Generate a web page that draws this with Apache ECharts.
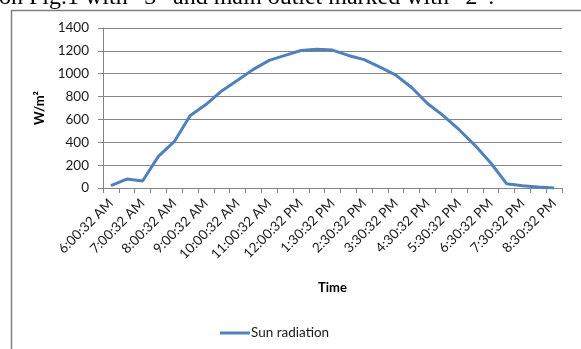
<!DOCTYPE html>
<html>
<head>
<meta charset="utf-8">
<script src="https://cdn.jsdelivr.net/npm/echarts@6/dist/echarts.min.js"></script>
<style>
  html, body { margin: 0; padding: 0; background: #fff; }
  #chart { width: 581px; height: 349px; }
</style>
</head>
<body>
<div id="chart"></div>
<script>
// Half-hourly sample times (every other one is labelled on the axis)
const times = [
  '6:00:32 AM', '6:30:32 AM', '7:00:32 AM', '7:30:32 AM', '8:00:32 AM',
  '8:30:32 AM', '9:00:32 AM', '9:30:32 AM', '10:00:32 AM', '10:30:32 AM',
  '11:00:32 AM', '11:30:32 AM', '12:00:32 PM', '1:00:32 PM', '1:30:32 PM',
  '2:00:32 PM', '2:30:32 PM', '3:00:32 PM', '3:30:32 PM', '4:00:32 PM',
  '4:30:32 PM', '5:00:32 PM', '5:30:32 PM', '6:00:32 PM', '6:30:32 PM',
  '7:00:32 PM', '7:30:32 PM', '8:00:32 PM', '8:30:32 PM'
];

// Measured solar radiation, W/m²
const sunRadiation = [
  20, 78, 61, 277, 405, 633, 730, 849, 943, 1038,
  1117, 1160, 1203, 1215, 1207, 1160, 1123, 1058, 988, 879,
  739, 633, 510, 373, 219, 38, 20, 9, 0
];

const yMin = 0, yMax = 1400, yStep = 200;
const seriesName = 'Sun radiation';
const caption = 'on Fig.1 with \u201c3\u201d and main outlet marked with \u201c2\u201d.';

const uiFont = 'Lato';
const gray = '#868686';

const chart = echarts.init(document.getElementById('chart'), null, { renderer: 'canvas' });

chart.setOption({
  animation: false,
  backgroundColor: '#fff',
  graphic: [
    {
      type: 'text',
      x: -1,
      y: -2,
      style: {
        text: caption,
        font: '24px "Liberation Serif"',
        fill: '#000',
        textVerticalAlign: 'middle'
      }
    },
    {
      type: 'rect',
      shape: { x: 11.5, y: 10.5, width: 620, height: 400 },
      style: { fill: 'none', stroke: '#7f7f7f', lineWidth: 1.5 }
    }
  ],
  grid: { left: 103, right: 19, top: 28, bottom: 161, containLabel: false },
  legend: {
    data: [seriesName],
    left: 215,
    top: 321,
    itemWidth: 30,
    itemHeight: 3,
    itemGap: 0,
    icon: 'rect',
    textStyle: { fontFamily: uiFont, fontSize: 13.5, color: '#1a1a1a', padding: [0, 0, 0, -4] }
  },
  xAxis: {
    type: 'category',
    data: times,
    boundaryGap: true,
    name: 'Time',
    nameLocation: 'middle',
    nameGap: 93,
    nameTextStyle: { fontFamily: uiFont, fontSize: 13, fontWeight: 'bold', color: '#000' },
    axisLine: { lineStyle: { color: gray, width: 1 } },
    axisTick: { show: true, interval: 0, length: 5, lineStyle: { color: gray } },
    axisLabel: {
      interval: 1,
      rotate: 45,
      margin: 13,
      fontFamily: uiFont,
      fontSize: 13.5,
      color: '#1a1a1a'
    },
    splitLine: { show: false }
  },
  yAxis: {
    type: 'value',
    min: yMin,
    max: yMax,
    interval: yStep,
    name: 'W/m\u00b2',
    nameLocation: 'middle',
    nameGap: 55,
    nameRotate: 90,
    nameTextStyle: { fontFamily: uiFont, fontSize: 13, fontWeight: 'bold', color: '#000' },
    axisLine: { show: true, lineStyle: { color: gray, width: 1 } },
    axisTick: { show: true, length: 5, inside: false, lineStyle: { color: gray } },
    axisLabel: {
      fontFamily: uiFont,
      fontSize: 13.5,
      color: '#1a1a1a',
      margin: 14,
      formatter: (v) => String(v)
    },
    splitLine: { show: true, lineStyle: { color: gray, width: 1 } }
  },
  series: [
    {
      name: seriesName,
      type: 'line',
      data: sunRadiation,
      symbol: 'none',
      smooth: false,
      lineStyle: { color: '#4F81BD', width: 3 },
      itemStyle: { color: '#4F81BD' }
    }
  ]
});
</script>
</body>
</html>
